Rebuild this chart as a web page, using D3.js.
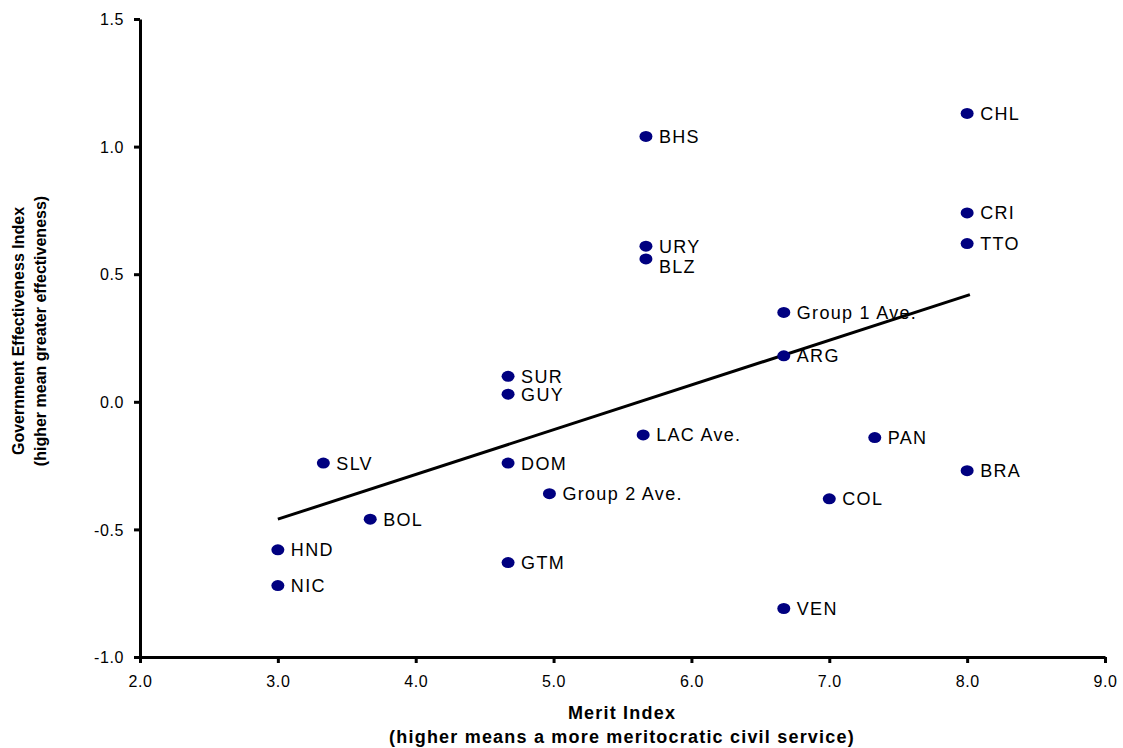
<!DOCTYPE html>
<html><head><meta charset="utf-8">
<script src="https://cdn.jsdelivr.net/npm/d3@7"></script>
<style>body{margin:0;background:#fff;} svg{display:block;font-family:"Liberation Sans",Arial,sans-serif;}</style>
</head><body>
<svg id="chart" width="1123" height="748"></svg>
<script>
const labels = ["CHL","CRI","TTO","BHS","URY","BLZ","Group 1 Ave.","ARG","SUR","GUY","LAC Ave.","PAN","BRA","SLV","DOM","Group 2 Ave.","COL","BOL","HND","NIC","GTM","VEN"];
const meritValues = [8.0,8.0,8.0,5.67,5.67,5.67,6.67,6.67,4.67,4.67,5.65,7.33,8.0,3.33,4.67,4.97,7.0,3.67,3.0,3.0,4.67,6.67];
const effectivenessValues = [1.13,0.74,0.62,1.04,0.61,0.56,0.35,0.18,0.10,0.03,-0.13,-0.14,-0.27,-0.24,-0.24,-0.36,-0.38,-0.46,-0.58,-0.72,-0.63,-0.81];
const trendX = [3.0, 8.02];
const trendY = [-0.46, 0.42];
const xTicks = [2,3,4,5,6,7,8,9];
const yTicks = [-1.0,-0.5,0.0,0.5,1.0,1.5];

const svg = d3.select("#chart");
const x = d3.scaleLinear().domain([2,9]).range([140,1105]);
const y = d3.scaleLinear().domain([-1,1.5]).range([657,19]);
const fmt = d => d.toFixed(1);

// trend line
svg.append("line")
  .attr("x1", x(trendX[0])).attr("y1", y(trendY[0]))
  .attr("x2", x(trendX[1])).attr("y2", y(trendY[1]))
  .attr("stroke","#000").attr("stroke-width",3);

// axes
const xAxis = svg.append("g").attr("transform","translate(0,"+y(-1)+")")
  .call(d3.axisBottom(x).tickValues(xTicks).tickFormat(fmt).tickSizeInner(6).tickSizeOuter(0).tickPadding(13));
const yAxis = svg.append("g").attr("transform","translate("+x(2)+",0)")
  .call(d3.axisLeft(y).tickValues(yTicks).tickFormat(fmt).tickSizeInner(6).tickSizeOuter(0).tickPadding(10));
[xAxis,yAxis].forEach(g=>{
  g.select(".domain").attr("stroke","#000").attr("stroke-width",3);
  g.selectAll(".tick line").attr("stroke","#000").attr("stroke-width",3);
  g.selectAll(".tick text").attr("fill","#000").style("font-size","16px").style("letter-spacing","0.6px").style("font-family","'Liberation Sans',Arial,sans-serif");
});
yAxis.selectAll(".tick text").attr("dy","0.35em");

// points
const data = labels.map((l,i)=>({label:l, mx:meritValues[i], ge:effectivenessValues[i]}));
svg.append("g").selectAll("ellipse").data(data).join("ellipse")
  .attr("cx",d=>x(d.mx)).attr("cy",d=>y(d.ge)).attr("rx",6.5).attr("ry",5.5)
  .attr("fill","#000080");
svg.append("g").selectAll("text").data(data).join("text")
  .attr("x",d=>x(d.mx)+13).attr("y",d=>y(d.ge) + (d.label==="BLZ"?8:0))
  .attr("dy","0.36em")
  .style("font-size","18px").style("letter-spacing","1.3px").attr("fill","#000")
  .text(d=>d.label);

// axis titles
svg.append("text").attr("x",622).attr("y",719).attr("text-anchor","middle")
  .style("font-size","18px").style("font-weight","bold").style("letter-spacing","1.2px").text("Merit Index");
svg.append("text").attr("x",622).attr("y",743).attr("text-anchor","middle")
  .style("font-size","18px").style("font-weight","bold").style("letter-spacing","1.2px").text("(higher means a more meritocratic civil service)");
svg.append("text").attr("transform","translate(24,331) rotate(-90)").attr("text-anchor","middle")
  .style("font-size","16px").style("font-weight","bold").text("Government Effectiveness Index");
svg.append("text").attr("transform","translate(46,331) rotate(-90)").attr("text-anchor","middle")
  .style("font-size","16px").style("font-weight","bold").text("(higher mean greater effectiveness)");
</script>
</body></html>
